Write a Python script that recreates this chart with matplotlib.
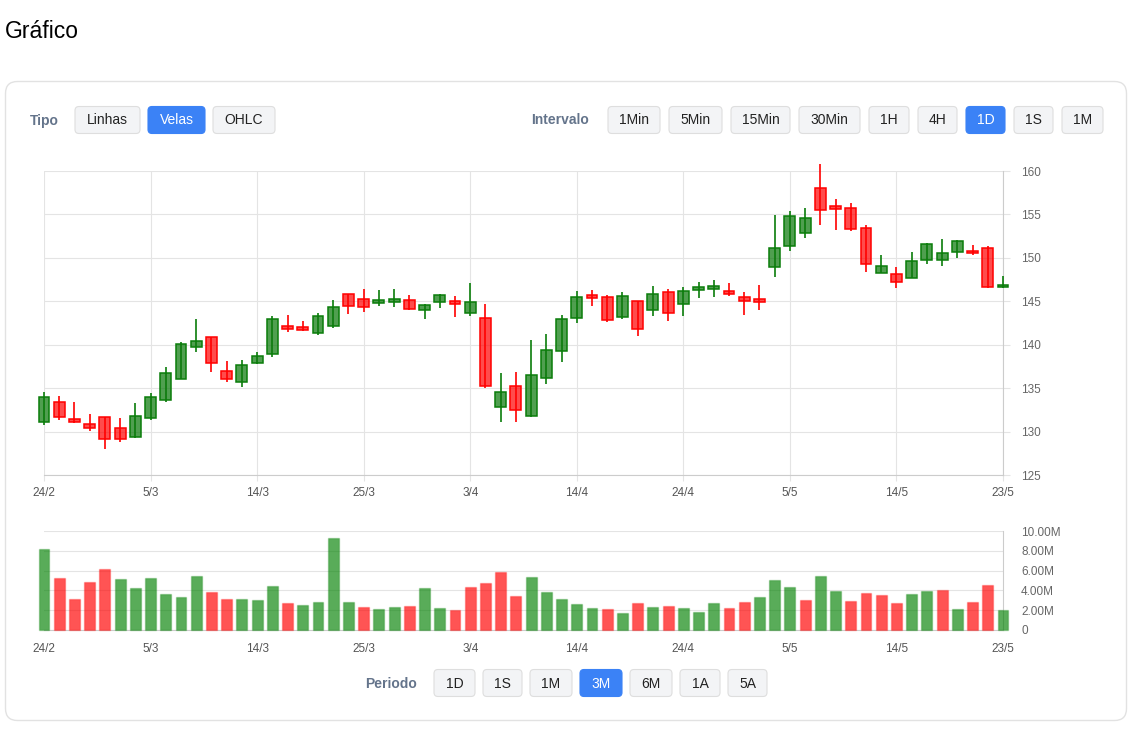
import matplotlib
matplotlib.use('Agg')
import matplotlib.pyplot as plt
from matplotlib.patches import FancyBboxPatch

plt.rcParams['font.family'] = ['Liberation Sans', 'DejaVu Sans']

W, H = 1133, 731

# velas diarias (indice = dia de negociacao)
opens = [131.07, 133.37, 131.41, 130.84, 131.64, 130.38, 129.42, 131.53, 133.6, 136.09,
         139.7, 140.85, 136.98, 135.75, 137.86, 138.93, 142.16, 142.0, 141.31, 142.19,
         145.8, 145.26, 144.84, 144.96, 145.11, 144.04, 144.96, 145.0, 143.69, 143.08,
         132.87, 135.21, 131.76, 136.13, 139.32, 143.12, 145.73, 145.5, 143.23, 145.0,
         144.04, 146.07, 144.73, 146.34, 146.46, 146.15, 145.5, 145.23, 149.0, 151.35,
         152.85, 158.08, 155.92, 155.77, 153.42, 148.27, 148.12, 147.73, 149.81, 149.73,
         150.65, 150.81, 151.19, 146.65]
highs = [134.6, 134.1, 133.37, 131.99, 131.7, 131.53, 133.25, 134.4, 137.47, 140.35,
         142.92, 140.9, 138.13, 138.24, 139.2, 143.35, 143.42, 142.73, 143.65, 145.19,
         145.85, 146.42, 146.34, 146.42, 145.73, 144.7, 145.84, 145.61, 147.1, 144.65,
         136.71, 136.82, 140.55, 141.24, 143.38, 146.19, 146.3, 145.73, 146.07, 145.05,
         146.76, 146.38, 146.61, 147.22, 147.41, 147.1, 146.03, 146.92, 154.96, 155.38,
         155.77, 160.77, 156.73, 156.27, 153.81, 150.35, 148.96, 150.62, 151.73, 152.19,
         152.0, 151.5, 151.38, 147.96]
lows = [130.76, 131.34, 131.03, 130.07, 128.0, 128.84, 129.23, 131.34, 133.37, 136.02,
        139.2, 136.9, 135.75, 135.17, 137.78, 138.55, 141.5, 141.58, 141.12, 141.96,
        143.54, 143.73, 144.5, 144.38, 144.04, 143.0, 144.23, 143.23, 143.35, 134.98,
        131.14, 131.14, 131.7, 135.44, 137.97, 142.5, 144.5, 142.66, 142.92, 141.04,
        143.35, 142.77, 143.35, 145.42, 145.5, 145.57, 143.42, 143.96, 147.85, 150.77,
        152.31, 153.73, 153.23, 153.12, 148.42, 148.2, 146.58, 147.65, 149.27, 149.08,
        150.0, 150.35, 146.54, 146.54]
closes = [134.02, 131.64, 131.1, 130.41, 129.11, 129.19, 131.8, 134.02, 136.78, 140.05,
          140.43, 137.86, 136.06, 137.7, 138.7, 142.92, 141.81, 141.73, 143.27, 144.34,
          144.5, 144.38, 145.19, 145.3, 144.15, 144.54, 145.69, 144.69, 144.88, 135.29,
          134.6, 132.45, 136.55, 139.36, 142.92, 145.5, 145.38, 142.89, 145.61, 141.85,
          145.88, 143.69, 146.15, 146.65, 146.77, 145.8, 145.07, 144.92, 151.15, 154.85,
          154.62, 155.5, 155.65, 153.31, 149.31, 149.08, 147.23, 149.62, 151.62, 150.54,
          151.96, 150.54, 146.62, 146.92]

# volume em milhoes e cor da barra (1 = alta, 0 = baixa)
volumes = [8.22, 5.25, 3.11, 4.81, 6.20, 5.19, 4.28, 5.22, 3.64, 3.33,
           5.42, 3.80, 3.13, 3.13, 3.03, 4.48, 2.69, 2.49, 2.83, 9.26,
           2.79, 2.36, 2.15, 2.32, 2.42, 4.21, 2.26, 1.99, 4.31, 4.71,
           5.82, 3.43, 5.39, 3.84, 3.10, 2.59, 2.26, 2.15, 1.72, 2.69,
           2.32, 2.42, 2.22, 1.78, 2.73, 2.19, 2.79, 3.33, 5.08, 4.31,
           3.00, 5.42, 3.94, 2.90, 3.70, 3.54, 2.73, 3.67, 3.91, 4.00,
           2.12, 2.83, 4.55, 2.05]
vol_up = [1, 0, 0, 0, 0, 1, 1, 1, 1, 1,
          1, 0, 0, 1, 1, 1, 0, 1, 1, 1,
          1, 0, 1, 1, 0, 1, 1, 0, 0, 0,
          0, 0, 1, 1, 1, 1, 1, 0, 1, 0,
          1, 0, 1, 1, 1, 0, 0, 1, 1, 1,
          0, 1, 1, 0, 0, 0, 0, 1, 1, 0,
          1, 0, 0, 1]

tick_pos = [0, 7, 14, 21, 28, 35, 42, 49, 56, 63]
tick_labels = ['24/2', '5/3', '14/3', '25/3', '3/4', '14/4', '24/4', '5/5', '14/5', '23/5']
price_ticks = [125, 130, 135, 140, 145, 150, 155, 160]
vol_ticks = [0, 2, 4, 6, 8, 10]
vol_labels = ['0', '2.00M', '4.00M', '6.00M', '8.00M', '10.00M']

tipo_btns = ['Linhas', 'Velas', 'OHLC']
intervalo_btns = ['1Min', '5Min', '15Min', '30Min', '1H', '4H', '1D', '1S', '1M']
periodo_btns = ['1D', '1S', '1M', '3M', '6M', '1A', '5A']

fig = plt.figure(figsize=(W / 100, H / 100), dpi=100)
fig.patch.set_facecolor('white')

# camada de fundo em pixels
bg = fig.add_axes([0, 0, 1, 1], zorder=0)
bg.set_xlim(0, W)
bg.set_ylim(H, 0)
bg.axis('off')

bg.text(5, 32, 'Gráfico', fontsize=16.5, va='center', ha='left', color='black')
bg.add_patch(FancyBboxPatch((5.5, 81.5), 1121, 639, boxstyle='round,pad=0,rounding_size=12',
                            fc='white', ec='#e2e2e2', lw=1))

LABEL_C = '#64748b'
BLUE = '#3b82f6'


def button(x0, x1, yc, text, active=False):
    h = 27
    bg.add_patch(FancyBboxPatch((x0, yc - h / 2), x1 - x0, h, boxstyle='round,pad=0,rounding_size=4',
                                fc=BLUE if active else '#f3f4f6',
                                ec=BLUE if active else '#dedede', lw=0.8))
    bg.text((x0 + x1) / 2, yc + 0.5, text, ha='center', va='center', fontsize=10,
            color='white' if active else '#222222')


bg.text(30, 120.5, 'Tipo', ha='left', va='center', fontsize=10, fontweight='bold', color=LABEL_C)
for (x0, x1), t in zip([(75, 140), (148, 205), (213, 275)], tipo_btns):
    button(x0, x1, 120, t, t == 'Velas')

bg.text(531, 120.5, 'Intervalo', ha='left', va='center', fontsize=10, fontweight='bold', color=LABEL_C)
int_x = [(608, 660), (669, 722), (731, 790), (799, 860), (869, 909), (918, 957), (966, 1005),
         (1014, 1053), (1062, 1103)]
for (x0, x1), t in zip(int_x, intervalo_btns):
    button(x0, x1, 120, t, t == '1D')

bg.text(365, 683.5, 'Periodo', ha='left', va='center', fontsize=10, fontweight='bold', color=LABEL_C)
per_x = [(434, 475), (483, 522), (530, 572), (580, 622), (630, 672), (680, 720), (728, 767)]
for (x0, x1), t in zip(per_x, periodo_btns):
    button(x0, x1, 683, t, t == '3M')

GRID = '#e4e4e4'
SPINE = '#cccccc'
TXT = '#666666'

# grafico de velas
ax = fig.add_axes([44 / W, 1 - 475 / H, 959 / W, 304 / H], zorder=1)
ax.set_facecolor('none')
n = len(opens)
for i in range(n):
    up = closes[i] >= opens[i]
    col = '#0a7d0a' if up else 'red'
    face = (0.05, 0.48, 0.05, 0.72) if up else (1, 0, 0, 0.7)
    ax.vlines(i, lows[i], highs[i], color=col, lw=1.2, zorder=3, clip_on=False)
    lo = min(opens[i], closes[i])
    hgt = max(abs(closes[i] - opens[i]), 0.28)
    ax.bar(i, hgt, bottom=lo, width=0.72, color=face, edgecolor=col, lw=1.1, zorder=4, clip_on=False)

ax.set_xlim(0, n - 1)
ax.set_ylim(125, 160)
ax.yaxis.tick_right()
ax.set_yticks(price_ticks)
ax.set_xticks(tick_pos)
ax.set_xticklabels(tick_labels)
ax.grid(True, color=GRID, lw=0.8, zorder=0)
ax.set_axisbelow(True)
for s in ['top', 'left']:
    ax.spines[s].set_visible(False)
for s in ['right', 'bottom']:
    ax.spines[s].set_color(SPINE)
ax.tick_params(axis='y', length=5, color=GRID, pad=8, labelsize=8.5, labelcolor=TXT)
ax.tick_params(axis='x', length=4.5, color=GRID, pad=4, labelsize=8.5, labelcolor='#555555')

# volume
axv = fig.add_axes([44 / W, 1 - 630 / H, 959 / W, 99 / H], zorder=1)
axv.set_facecolor('none')
for i in range(n):
    if vol_up[i]:
        fc, ec = (0, 0.5, 0, 0.65), (0, 0.5, 0, 0.25)
    else:
        fc, ec = (1, 0, 0, 0.67), (1, 0, 0, 0.25)
    axv.bar(i, volumes[i], width=0.72, color=fc, edgecolor=ec, lw=1, zorder=3, clip_on=False)
axv.set_xlim(0, n - 1)
axv.set_ylim(0, 10)
axv.yaxis.tick_right()
axv.set_yticks(vol_ticks)
axv.set_yticklabels(vol_labels)
axv.set_xticks(tick_pos)
axv.set_xticklabels(tick_labels)
axv.grid(True, axis='y', color=GRID, lw=0.8, zorder=0)
axv.set_axisbelow(True)
for s in ['top', 'left']:
    axv.spines[s].set_visible(False)
for s in ['right', 'bottom']:
    axv.spines[s].set_color(SPINE)
axv.tick_params(axis='y', length=0, pad=13, labelsize=8.5, labelcolor=TXT)
axv.tick_params(axis='x', length=0, pad=9, labelsize=8.5, labelcolor='#555555')

fig.savefig('out.png', dpi=100, facecolor='white')
